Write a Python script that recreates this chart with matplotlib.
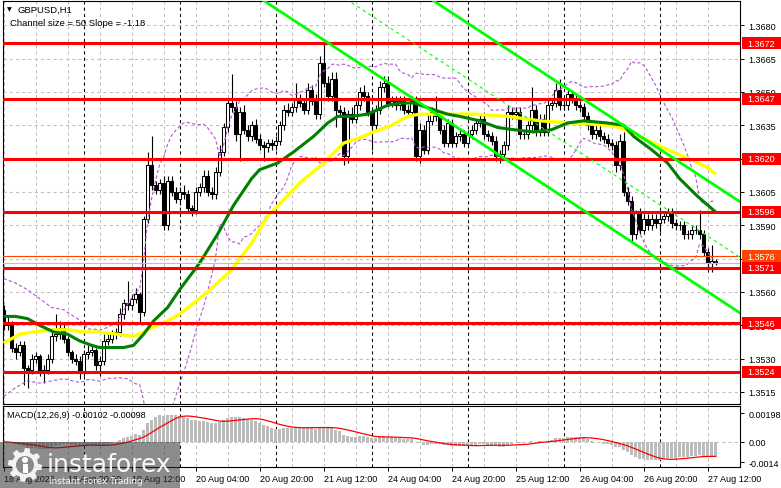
import matplotlib
matplotlib.use("Agg")
import matplotlib.pyplot as plt
from matplotlib.patches import Rectangle, Polygon, Circle
import numpy as np
import pandas as pd

plt.rcParams["font.family"] = ["Liberation Sans", "DejaVu Sans"]

# GBPUSD H1 closes, one per bar
first_open = 1.3552
closes = [
    1.3545, 1.3546, 1.3535, 1.3533, 1.3536, 1.3526, 1.3525, 1.3530, 1.3531, 1.3524,
    1.3525, 1.3530, 1.3540, 1.3541, 1.3544, 1.3539, 1.3533, 1.3530, 1.3529, 1.3524,
    1.3532, 1.3533, 1.3534, 1.3527, 1.3529, 1.3538, 1.3539, 1.3541, 1.3542, 1.3550,
    1.3555, 1.3554, 1.3557, 1.3559, 1.3551, 1.3593, 1.3617, 1.3608, 1.3606, 1.3609,
    1.3590, 1.3610, 1.3605, 1.3602, 1.3605, 1.3604, 1.3598, 1.3597, 1.3605, 1.3607,
    1.3612, 1.3605, 1.3604, 1.3614, 1.3623, 1.3634, 1.3645, 1.3643, 1.3631, 1.3641,
    1.3633, 1.3630, 1.3635, 1.3629, 1.3626, 1.3625, 1.3627, 1.3626, 1.3628, 1.3635,
    1.3642, 1.3641, 1.3643, 1.3647, 1.3645, 1.3642, 1.3651, 1.3646, 1.3640, 1.3663,
    1.3654, 1.3648, 1.3656, 1.3642, 1.3641, 1.3621, 1.3640, 1.3638, 1.3644, 1.3650,
    1.3648, 1.3641, 1.3635, 1.3642, 1.3652, 1.3654, 1.3645, 1.3646, 1.3644, 1.3646,
    1.3642, 1.3641, 1.3646, 1.3621, 1.3633, 1.3624, 1.3637, 1.3641, 1.3639, 1.3633,
    1.3627, 1.3636, 1.3627, 1.3630, 1.3631, 1.3627, 1.3631, 1.3633, 1.3636, 1.3638,
    1.3631, 1.3630, 1.3628, 1.3621, 1.3622, 1.3626, 1.3641, 1.3640, 1.3641, 1.3631,
    1.3631, 1.3635, 1.3642, 1.3632, 1.3638, 1.3632, 1.3644, 1.3645, 1.3651, 1.3644,
    1.3644, 1.3649, 1.3647, 1.3644, 1.3643, 1.3639, 1.3635, 1.3631, 1.3633, 1.3630,
    1.3629, 1.3627, 1.3626, 1.3617, 1.3628, 1.3605, 1.3601, 1.3586, 1.3596, 1.3588,
    1.3593, 1.3590, 1.3593, 1.3591, 1.3593, 1.3594, 1.3596, 1.3591, 1.3590, 1.3590,
    1.3586, 1.3586, 1.3588, 1.3588, 1.3586, 1.3578, 1.3573, 1.3574, 1.3573,
]
# wick lengths above / below the body, in pips
up_wick = [
    2, 3, 1, 2, 2, 2, 1, 2, 2, 1,
    2, 2, 3, 9, 3, 2, 1, 1, 2, 2,
    2, 3, 2, 1, 2, 3, 2, 2, 2, 3,
    2, 10, 2, 3, 1, 1, 6, 13, 2, 2,
    3, 2, 2, 2, 2, 3, 2, 1, 2, 2,
    3, 3, 2, 2, 3, 2, 2, 13, 3, 2,
    3, 2, 2, 3, 2, 2, 2, 2, 2, 2,
    2, 3, 2, 7, 2, 2, 3, 2, 3, 3,
    11, 3, 3, 3, 2, 2, 2, 3, 2, 2,
    3, 2, 2, 2, 3, 3, 3, 2, 2, 2,
    2, 2, 2, 2, 3, 2, 3, 2, 7, 2,
    2, 2, 2, 2, 2, 2, 2, 2, 2, 2,
    3, 2, 2, 2, 2, 2, 3, 2, 2, 2,
    2, 2, 10, 2, 2, 2, 3, 2, 3, 5,
    2, 2, 2, 2, 2, 2, 2, 2, 2, 2,
    2, 2, 2, 2, 3, 4, 2, 2, 1, 2,
    2, 2, 2, 2, 4, 2, 2, 2, 2, 2,
    2, 2, 2, 2, 9, 2, 2, 7, 1,
]
down_wick = [
    2, 2, 2, 3, 2, 8, 8, 2, 2, 2,
    5, 2, 2, 2, 2, 2, 2, 2, 2, 3,
    2, 2, 2, 2, 5, 2, 2, 2, 2, 2,
    2, 2, 2, 2, 5, 2, 2, 2, 2, 2,
    2, 2, 2, 2, 3, 2, 2, 3, 2, 2,
    2, 2, 2, 2, 2, 2, 2, 2, 3, 12,
    2, 2, 2, 2, 2, 6, 2, 2, 2, 2,
    2, 2, 2, 2, 2, 2, 2, 2, 2, 2,
    2, 2, 2, 8, 2, 4, 3, 2, 2, 2,
    2, 2, 11, 2, 2, 2, 2, 2, 2, 2,
    2, 2, 2, 2, 3, 2, 2, 2, 2, 2,
    2, 2, 2, 2, 2, 2, 2, 2, 2, 2,
    2, 2, 2, 2, 3, 2, 2, 2, 2, 2,
    2, 2, 2, 2, 2, 2, 2, 2, 2, 2,
    2, 2, 2, 2, 2, 2, 2, 2, 2, 2,
    2, 2, 2, 3, 2, 2, 2, 4, 2, 2,
    2, 2, 2, 2, 4, 2, 2, 2, 2, 2,
    2, 2, 2, 2, 2, 2, 4, 4, 1,
]

# moving averages (bar index, price)
ma_fast_bars = [0, 3, 6, 9, 12.5, 16, 19, 22, 24, 27.5, 30, 32.5, 35, 37.5, 41, 44, 49, 53.5,
                57.5, 62, 64, 68.5, 72.5, 77.5, 81, 83.5, 87, 91, 93.5, 96, 99, 102.5, 107.5,
                111, 114, 119, 123.5, 127.5, 132.5, 137, 141, 145, 151, 155, 157.5, 162, 166,
                169, 173.5, 178]
ma_fast_vals = [1.3549, 1.3549, 1.3548, 1.3545, 1.3542, 1.3541, 1.3538, 1.3536, 1.3535, 1.3535,
                1.3535, 1.3536, 1.3541, 1.3547, 1.3553, 1.3561, 1.3573, 1.3586, 1.3599, 1.3611,
                1.3615, 1.3618, 1.3623, 1.3630, 1.3636, 1.3639, 1.3639, 1.3640, 1.3642, 1.3644,
                1.3645, 1.3645, 1.3642, 1.3640, 1.3639, 1.3637, 1.3634, 1.3633, 1.3632, 1.3633,
                1.3636, 1.3637, 1.3636, 1.3635, 1.3630, 1.3624, 1.3618, 1.3611, 1.3603, 1.3596]
ma_slow_bars = [0, 4, 7.5, 12, 16, 20, 24, 28.5, 32.5, 35, 38.5, 41, 44, 51, 57, 62, 66, 74, 80,
                85, 88.5, 92.5, 97, 101, 104, 109, 117.5, 126, 134, 142.5, 151, 154, 159, 166,
                172.5, 176, 178]
ma_slow_vals = [1.3537, 1.3541, 1.3542, 1.3543, 1.3543, 1.3542, 1.3542, 1.3541, 1.3540, 1.3542,
                1.3545, 1.3547, 1.3550, 1.3560, 1.3570, 1.3582, 1.3594, 1.3609, 1.3618, 1.3627,
                1.3629, 1.3632, 1.3635, 1.3639, 1.3640, 1.3640, 1.3640, 1.3639, 1.3637, 1.3636,
                1.3635, 1.3634, 1.3630, 1.3624, 1.3619, 1.3616, 1.3613]

# bollinger bands before the 20 bar window fills
bb_head_bars = [0, 3, 6, 9, 12, 15]
bb_head_upper = [1.3566, 1.3564, 1.3561, 1.3557, 1.3553, 1.3552]
bb_head_lower = [1.3513, 1.3517, 1.3520, 1.3519, 1.3520, 1.3521]

levels = [1.3672, 1.3647, 1.3620, 1.3596, 1.3571, 1.3546, 1.3524]
marker_level = 1.3576
bid = 1.3573
price_ticks = [1.3515, 1.3530, 1.3545, 1.3560, 1.3575, 1.3590, 1.3605,
               1.3620, 1.3635, 1.3650, 1.3665, 1.3680]
hidden_ticks = [1.3575, 1.3620]   # fully covered by the level boxes

channel_bar = 124.25
channel_price = 1.36212
channel_slope = -1.18   # pips per bar
channel_size = 50       # pips

macd_ticks = [0.00198, 0.0, -0.0014]
macd_tick_labels = ["0.00198", "0.00", "-0.0014"]

n = len(closes)
x = np.arange(n)
c = np.array(closes)
o = np.array([first_open] + closes[:-1])
hi = np.maximum(o, c) + np.array(up_wick) * 1e-4
lo = np.minimum(o, c) - np.array(down_wick) * 1e-4

times = pd.date_range("2026-08-18 04:00", periods=24 * 12, freq="h")
times = times[times.dayofweek < 5][:n]

s = pd.Series(closes)
mid = s.rolling(20).mean()
sd = s.rolling(20).std(ddof=0)
bb_up = (mid + 2 * sd).values
bb_lo = (mid - 2 * sd).values
macd = (s.ewm(span=12, adjust=False).mean() - s.ewm(span=26, adjust=False).mean()).values
signal = pd.Series(macd).rolling(9, min_periods=1).mean().values

FS = 6.5
W, H = 781, 489
fig = plt.figure(figsize=(W / 100, H / 100), dpi=100)
ax = fig.add_axes([3 / W, 1 - 405 / H, 737 / W, 403 / H])
am = fig.add_axes([3 / W, 1 - 468 / H, 737 / W, 61 / H])

grid_kw = dict(color="#c0c0c0", lw=0.75, ls=(0, (3, 3)), zorder=0)
sep_kw = dict(color="black", lw=0.75, ls=(0, (3, 3)), zorder=1)
for a in (ax, am):
    for b in range(0, n + 8, 8):
        a.axvline(b, **grid_kw)
    for i in range(n):
        if times[i].hour == 0:
            a.axvline(i, **sep_kw)
    for sp in a.spines.values():
        sp.set_color("black")
        sp.set_linewidth(0.8)
    a.set_xlim(-0.15, 184.1)
    a.yaxis.tick_right()
    a.tick_params(axis="y", direction="out", length=3, width=0.7, labelsize=FS, pad=3)

for p in price_ticks:
    ax.axhline(p, **grid_kw)

# candles
ax.vlines(x, lo, hi, color="black", lw=0.8, zorder=3)
bull = c >= o
ax.bar(x[bull], (c - o)[bull], bottom=o[bull], width=0.6, facecolor="white",
       edgecolor="black", lw=0.75, zorder=4)
ax.bar(x[~bull], (o - c)[~bull], bottom=c[~bull], width=0.6, facecolor="black",
       edgecolor="black", lw=0.75, zorder=4)

# bollinger
band_kw = dict(color="#b455d6", lw=0.8, ls=(0, (3, 2)), zorder=5)
ax.plot(np.r_[bb_head_bars, x[19:]], np.r_[bb_head_upper, bb_up[19:]], **band_kw)
ax.plot(np.r_[bb_head_bars, x[19:]], np.r_[bb_head_lower, bb_lo[19:]], **band_kw)

# moving averages
ax.plot(ma_slow_bars, ma_slow_vals, color="#ffff00", lw=2.4, zorder=6, solid_capstyle="butt")
ax.plot(ma_fast_bars, ma_fast_vals, color="#007f00", lw=2.2, zorder=7, solid_capstyle="butt")

# levels
for lv in levels:
    ax.axhline(lv, color="#ff0000", lw=2.2, zorder=8)
ax.axhline(marker_level, color="#ff4500", lw=0.8, zorder=8)
ax.axhline(bid, color="#c0c0c0", lw=0.8, zorder=8)

# regression channel
cx = np.array([-1, 185])
low_line = channel_price + channel_slope * 1e-4 * (cx - channel_bar)
ax.plot(cx, low_line, color="#00ff00", lw=2.0, zorder=9)
ax.plot(cx, low_line + channel_size * 1e-4, color="#00ff00", lw=2.0, zorder=9)
ax.plot(cx, low_line + channel_size * 0.5e-4, color="#00ff00", lw=0.8,
        ls=(0, (3, 3)), zorder=9)

ax.set_ylim(1.35096, 1.36909)
ax.set_yticks(price_ticks)
ax.set_yticklabels(["" if p in hidden_ticks else "%.4f" % p for p in price_ticks])
ax.set_xticks([])

trans = ax.get_yaxis_transform()


def price_box(price, text, color, z):
    h = 0.00054
    ax.add_patch(Rectangle((1.0025, price - h / 2), 0.06, h, transform=trans,
                           facecolor=color, edgecolor="none", clip_on=False, zorder=z))
    ax.text(1.0095, price, text, transform=trans, color="white", fontsize=FS,
            va="center", ha="left", clip_on=False, zorder=z + 0.5)


price_box(bid, "%.4f" % bid, "black", 20)
price_box(marker_level, "%.4f" % marker_level, "#ff4500", 21)
for lv in levels:
    price_box(lv, "%.4f" % lv, "#ff0000", 22)

# MACD
am.bar(x, macd, width=0.7, color="#bcbcbc", zorder=2)
am.plot(x, signal, color="#ff0000", lw=0.9, zorder=3)
am.axhline(0, **grid_kw)
am.set_ylim(-0.00171, 0.00246)
am.set_yticks(macd_ticks)
am.set_yticklabels(macd_tick_labels)
xt = list(range(0, n, 16))
am.set_xticks(xt)
am.set_xticklabels([times[0].strftime("%d %b %Y")] +
                   [times[i].strftime("%d %b %H:%M") for i in xt[1:]],
                   ha="left")
am.tick_params(axis="x", direction="out", length=3, width=0.7, labelsize=FS, pad=2)
am.text(0.006, 0.86, "MACD(12,26,9) -0.00102 -0.00098", transform=am.transAxes,
        fontsize=FS, va="center", ha="left", zorder=10)

# header
fig.text(7 / W, 1 - 10 / H, "\u25bc", fontsize=4.5, va="center", ha="left",
         family="DejaVu Sans")
fig.text(18 / W, 1 - 10 / H, "GBPUSD,H1", fontsize=6.8, va="center", ha="left")
fig.text(10 / W, 1 - 24 / H, "Channel size = 50 Slope = -1.18", fontsize=6.8,
         va="center", ha="left")

# watermark
ov = fig.add_axes([0, 0, 1, 1], zorder=30)
ov.set_xlim(0, W)
ov.set_ylim(H, 0)
ov.axis("off")
ov.patch.set_alpha(0)
ov.add_patch(Rectangle((0, 443), 180, 46, facecolor="#2e2e2e", alpha=0.55, edgecolor="none"))
ang = np.linspace(0, 2 * np.pi, 64, endpoint=False)
rad = np.where((np.arange(64) // 4) % 2 == 0, 17, 13)
ov.add_patch(Polygon(np.c_[25 + rad * np.cos(ang), 466 + rad * np.sin(ang)],
                     closed=True, facecolor="white", edgecolor="none", alpha=0.9))
ov.add_patch(Circle((25, 466), 9, facecolor="#8a8a8a", edgecolor="none"))
ov.add_patch(Circle((25, 461), 3, facecolor="white", edgecolor="none"))
ov.add_patch(Rectangle((22.5, 465), 5, 9, facecolor="white", edgecolor="none"))
ov.text(47, 465, "instaforex", color="white", fontsize=18, va="center", ha="left",
        alpha=0.95, family="DejaVu Sans")
ov.text(49, 482, "Instant Forex Trading", color="white", fontsize=6.4, va="center",
        ha="left", alpha=0.95, family="DejaVu Sans")

fig.savefig("out.png", dpi=100)
